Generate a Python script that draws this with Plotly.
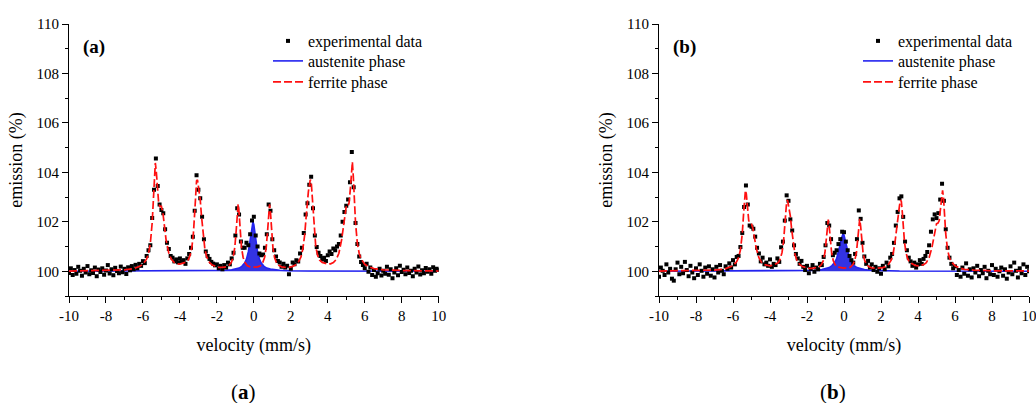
import numpy as np
import plotly.graph_objects as go

# ---------------- data ----------------
velocity = np.round(np.linspace(-10.0, 10.0, 201), 1)

emission_a = [
    99.93, 100.12, 99.85, 100.05, 99.90, 100.18, 100.02, 99.82, 100.10, 99.95,
    100.21, 99.88, 100.04, 99.93, 100.15, 99.80, 100.07, 99.97, 100.12, 99.86,
    100.03, 100.25, 99.91, 100.08, 99.84, 100.14, 100.01, 99.92, 100.19, 99.96,
    100.10, 99.89, 100.16, 100.04, 100.21, 100.08, 100.26, 100.12, 100.30, 100.22,
    100.41, 100.33, 100.62, 100.85, 101.05, 102.15, 103.30, 104.56, 103.45, 102.70,
    102.48, 102.35, 101.70, 101.15, 100.90, 100.62, 100.55, 100.40, 100.48, 100.36,
    100.52, 100.38, 100.45, 100.30, 100.52, 100.70, 100.95, 101.40, 102.45, 103.88,
    103.30, 102.95, 102.20, 101.30, 100.80, 100.62, 100.50, 100.38, 100.31, 100.24,
    100.28, 100.12, 100.22, 100.08, 100.25, 100.15, 100.35, 100.28, 100.52, 100.75,
    101.45, 102.55, 102.30, 101.20, 100.95, 100.95, 101.15, 101.05, 101.50, 102.05,
    102.20, 101.45, 101.00, 100.72, 100.65, 100.68, 100.95, 101.50, 102.70, 102.45,
    101.30, 100.85, 100.60, 100.42, 100.35, 100.18, 100.30, 100.15, 100.22, 99.88,
    100.10, 100.35, 100.28, 100.45, 100.40, 100.72, 100.95, 101.55, 102.30, 102.75,
    103.50, 103.82, 102.55, 101.45, 100.98, 100.75, 100.62, 100.48, 100.55, 100.42,
    100.65, 100.80, 100.70, 100.92, 100.85, 101.00, 101.10, 101.45, 102.00, 102.40,
    102.65, 102.90, 103.60, 104.82, 103.40, 101.95, 101.10, 100.60, 100.38, 100.25,
    100.12, 100.30, 99.98, 100.15, 99.85, 100.05, 99.78, 99.92, 100.10, 99.83,
    100.02, 99.90, 100.18, 99.86, 100.08, 99.72, 99.95, 100.12, 99.84, 100.22,
    99.97, 100.06, 99.88, 100.15, 99.93, 100.02, 99.80, 100.10, 99.95, 100.19,
    99.87, 100.04, 99.92, 100.13, 99.98, 100.08, 99.90, 100.16, 100.02, 100.10, 100.05,
]

emission_b = [
    99.78, 100.15, 100.02, 99.85, 100.28, 99.95, 100.10, 99.70, 99.62, 100.08,
    100.35, 99.88, 100.18, 99.92, 100.38, 100.05, 99.80, 100.22, 99.95, 99.72,
    100.12, 99.85, 100.28, 100.02, 99.78, 100.15, 99.90, 100.20, 99.82, 100.08,
    99.75, 100.18, 99.95, 100.25, 100.02, 99.88, 100.20, 100.10, 100.32, 100.15,
    100.45, 100.28, 100.58, 100.62, 100.98, 101.55, 102.60, 103.47, 102.70, 101.85,
    101.80, 101.72, 101.40, 100.95, 100.72, 100.40, 100.55, 100.28, 100.35, 100.22,
    100.48, 100.18, 100.30, 100.25, 100.52, 100.38, 100.97, 101.20, 102.05, 103.07,
    102.85, 102.10, 101.65, 101.05, 100.70, 100.52, 100.30, 100.42, 100.18, 100.05,
    100.22, 99.92, 100.10, 100.25, 99.98, 100.15, 100.08, 100.30, 100.25, 100.58,
    101.05, 101.95, 101.85, 101.30, 100.65, 100.75, 100.85, 101.10, 101.30, 101.60,
    101.58, 101.20, 100.85, 100.62, 100.45, 100.35, 100.70, 101.30, 102.46, 102.12,
    101.15, 100.60, 100.30, 100.42, 100.15, 100.28, 100.05, 100.18, 99.98, 100.12,
    99.90, 100.22, 100.08, 100.35, 100.20, 100.55, 100.70, 101.15, 101.85, 102.40,
    102.95, 103.03, 102.20, 101.20, 100.85, 100.55, 100.40, 100.22, 100.35, 100.15,
    100.28, 100.45, 100.30, 100.50, 100.62, 100.78, 101.05, 101.60, 102.10, 102.30,
    102.15, 102.35, 102.90, 103.54, 102.85, 101.70, 100.95, 100.55, 100.30, 100.12,
    100.20, 99.85, 100.05, 99.78, 100.15, 99.90, 100.32, 99.82, 100.08, 99.75,
    100.12, 99.95, 100.22, 99.80, 100.05, 99.92, 100.18, 99.72, 100.02, 99.88,
    100.25, 99.85, 100.10, 99.78, 100.00, 100.15, 99.82, 100.08, 99.70, 99.95,
    100.20, 99.88, 100.35, 100.02, 99.75, 100.12, 99.92, 100.28, 99.85, 100.18, 100.00,
]

fit_velocity = [
    -10, -9, -8, -7.5, -7, -6.5, -6.2, -6.0, -5.8, -5.7, -5.6, -5.5, -5.43, -5.38,
    -5.33, -5.28, -5.22, -5.15, -5.08, -5.0, -4.92, -4.84, -4.75, -4.6, -4.45, -4.3,
    -4.15, -4.0, -3.85, -3.7, -3.55, -3.45, -3.35, -3.27, -3.2, -3.15, -3.1, -3.05,
    -3.0, -2.95, -2.9, -2.83, -2.75, -2.65, -2.55, -2.4, -2.25, -2.1, -1.9, -1.7,
    -1.5, -1.35, -1.22, -1.12, -1.03, -0.96, -0.9, -0.85, -0.8, -0.74, -0.67, -0.58,
    -0.48, -0.35, -0.2, 0,
    0.2, 0.35, 0.48, 0.58, 0.67, 0.74, 0.8, 0.85, 0.9, 0.96, 1.03, 1.12, 1.22, 1.35,
    1.5, 1.7, 1.9, 2.1, 2.25, 2.4, 2.55, 2.65, 2.75, 2.83, 2.9, 2.95, 3.0, 3.05, 3.1,
    3.15, 3.2, 3.27, 3.35, 3.45, 3.55, 3.7, 3.85, 4.0, 4.15, 4.3, 4.45, 4.6, 4.75,
    4.84, 4.92, 5.0, 5.08, 5.15, 5.22, 5.28, 5.33, 5.38, 5.43, 5.5, 5.6, 5.7, 5.8,
    6.0, 6.2, 6.5, 7, 7.5, 8, 9, 10,
]

ferrite_a = [
    100.01, 100.02, 100.03, 100.04, 100.06, 100.11, 100.19, 100.28, 100.50, 100.72,
    101.12, 101.96, 102.99, 103.84, 104.38, 104.06, 103.33, 102.76, 102.61, 102.63,
    102.36, 101.82, 101.28, 100.73, 100.47, 100.35, 100.30, 100.29, 100.31, 100.36,
    100.46, 100.64, 100.99, 101.53, 102.37, 103.12, 103.66, 103.70, 103.45, 103.22,
    102.89, 102.21, 101.47, 100.90, 100.58, 100.36, 100.25, 100.20, 100.16, 100.16,
    100.18, 100.24, 100.35, 100.56, 100.97, 101.60, 102.37, 102.71, 102.37, 101.60,
    100.97, 100.56, 100.35, 100.22, 100.18, 100.17,
    100.18, 100.22, 100.35, 100.56, 100.97, 101.60, 102.37, 102.71, 102.37, 101.60,
    100.97, 100.56, 100.35, 100.24, 100.18, 100.16, 100.16, 100.20, 100.25, 100.36,
    100.58, 100.90, 101.47, 102.21, 102.89, 103.22, 103.45, 103.70, 103.66, 103.12,
    102.37, 101.53, 100.99, 100.64, 100.46, 100.36, 100.31, 100.29, 100.30, 100.35,
    100.47, 100.73, 101.28, 101.82, 102.36, 102.63, 102.61, 102.76, 103.33, 104.06,
    104.42, 103.84, 102.99, 101.96, 101.12, 100.72, 100.50, 100.28, 100.19, 100.11,
    100.06, 100.04, 100.03, 100.02, 100.01,
]

ferrite_b = [
    100.01, 100.02, 100.02, 100.03, 100.05, 100.08, 100.15, 100.22, 100.39, 100.55,
    100.86, 101.51, 102.30, 102.96, 103.27, 103.13, 102.56, 102.05, 101.95, 101.92,
    101.72, 101.33, 100.95, 100.55, 100.35, 100.27, 100.23, 100.22, 100.24, 100.28,
    100.35, 100.49, 100.76, 101.18, 101.82, 102.40, 102.82, 102.88, 102.66, 102.48,
    102.23, 101.70, 101.13, 100.69, 100.45, 100.28, 100.19, 100.15, 100.12, 100.12,
    100.14, 100.18, 100.27, 100.43, 100.75, 101.23, 101.82, 102.09, 101.82, 101.23,
    100.75, 100.43, 100.27, 100.17, 100.14, 100.13,
    100.14, 100.17, 100.27, 100.43, 100.75, 101.23, 101.82, 102.12, 101.82, 101.23,
    100.75, 100.43, 100.27, 100.18, 100.14, 100.12, 100.12, 100.15, 100.19, 100.28,
    100.45, 100.69, 101.13, 101.70, 102.23, 102.48, 102.66, 102.88, 102.82, 102.40,
    101.82, 101.18, 100.76, 100.49, 100.35, 100.28, 100.24, 100.22, 100.23, 100.27,
    100.35, 100.55, 100.95, 101.33, 101.72, 101.92, 101.95, 102.05, 102.56, 103.13,
    103.27, 102.96, 102.30, 101.51, 100.86, 100.55, 100.39, 100.22, 100.15, 100.08,
    100.05, 100.03, 100.02, 100.02, 100.01,
]

aust_velocity = [
    -10, -3, -2, -1.5, -1.2, -1.0, -0.8, -0.65, -0.5, -0.4, -0.3, -0.22, -0.15, -0.1,
    -0.05, 0, 0.05, 0.12, 0.2, 0.3, 0.4, 0.55, 0.7, 0.9, 1.1, 1.4, 2, 3, 10,
]
austenite_a = [
    100.00, 100.01, 100.02, 100.04, 100.06, 100.09, 100.13, 100.20, 100.33, 100.49,
    100.78, 101.16, 101.60, 101.88, 102.00, 101.88, 101.60, 101.16, 100.78, 100.49,
    100.33, 100.20, 100.13, 100.09, 100.06, 100.04, 100.02, 100.01, 100.00,
]
austenite_b = [
    100.00, 100.01, 100.02, 100.04, 100.07, 100.10, 100.15, 100.23, 100.36, 100.51,
    100.76, 101.04, 101.31, 101.46, 101.52, 101.46, 101.31, 101.04, 100.76, 100.51,
    100.36, 100.23, 100.15, 100.10, 100.07, 100.04, 100.02, 100.01, 100.00,
]

baseline_velocity = [-10, 10]
baseline_level = [100, 100]

x_tick_vals = [-10, -8, -6, -4, -2, 0, 2, 4, 6, 8, 10]
x_tick_text = ["-10", "-8", "-6", "-4", "-2", "0", "2", "4", "6", "8", "10"]
x_minor_vals = [-9, -7, -5, -3, -1, 1, 3, 5, 7, 9]
y_tick_vals = [100, 102, 104, 106, 108, 110]
y_tick_text = ["100", "102", "104", "106", "108", "110"]
y_minor_vals = [99, 101, 103, 105, 107, 109]

series_names = ["experimental data", "austenite phase", "ferrite phase"]
panel_tags = ["(a)", "(b)"]
x_title = "velocity (mm/s)"
y_title = "emission (%)"

# ---------------- styling ----------------
FONT = "Liberation Serif, DejaVu Serif, serif"
W, H = 1036, 403
dom_x = [[69 / W, 438.7 / W], [659 / W, 1029 / W]]
dom_y = [1 - 296 / H, 1 - 24 / H]
BLUE = "#2323f0"
FILL = "rgba(35,35,225,0.93)"
RED = "#ff1010"

# one single-entry legend per row so the row spacing matches the original
legend_ids = [["legend", "legend3", "legend4"], ["legend2", "legend5", "legend6"]]
legend_left_px = [268, 858]
legend_top_px = [24, 44, 65]

fig = go.Figure()

panels = [
    (emission_a, ferrite_a, austenite_a, "x", "y"),
    (emission_b, ferrite_b, austenite_b, "x2", "y2"),
]

for p, (emis, ferr, aust, xa, ya) in enumerate(panels):
    lg = legend_ids[p]
    fig.add_trace(go.Scatter(x=baseline_velocity, y=baseline_level, mode="lines",
                             line=dict(width=0, color=BLUE), showlegend=False,
                             hoverinfo="skip", xaxis=xa, yaxis=ya))
    fig.add_trace(go.Scatter(x=aust_velocity, y=aust, mode="lines", fill="tonexty",
                             fillcolor=FILL, line=dict(width=0, color=BLUE),
                             showlegend=False, hoverinfo="skip", xaxis=xa, yaxis=ya))
    fig.add_trace(go.Scatter(x=aust_velocity, y=aust, mode="lines", name=series_names[1],
                             line=dict(width=1.6, color=BLUE),
                             legend=lg[1], xaxis=xa, yaxis=ya))
    fig.add_trace(go.Scatter(x=velocity, y=emis, mode="markers", name=series_names[0],
                             marker=dict(symbol="square", size=4, color="black",
                                         line=dict(width=0)),
                             legend=lg[0], xaxis=xa, yaxis=ya))
    fig.add_trace(go.Scatter(x=fit_velocity, y=ferr, mode="lines", name=series_names[2],
                             line=dict(width=1.7, color=RED, dash="8px,3px"),
                             legend=lg[2], xaxis=xa, yaxis=ya))

tickfont = dict(family=FONT, size=15, color="black")
titlefont = dict(family=FONT, size=18, color="black")

common_x = dict(range=[-10, 10], showgrid=False, zeroline=False, showline=True,
                linecolor="black", linewidth=1.2, tickcolor="black", tickwidth=1.2,
                automargin=False, fixedrange=True)
common_y = dict(range=[99, 110], showgrid=False, zeroline=False, showline=True,
                linecolor="black", linewidth=1.2, tickcolor="black", tickwidth=1.2,
                automargin=False, fixedrange=True)

layout_axes = {}
for i, (xn, yn, xt, yt) in enumerate([("xaxis", "yaxis", "xaxis3", "yaxis3"),
                                      ("xaxis2", "yaxis2", "xaxis4", "yaxis4")]):
    xid = "x" if i == 0 else "x2"
    yid = "y" if i == 0 else "y2"
    layout_axes[xn] = dict(common_x, domain=dom_x[i], anchor=yid,
                           tickmode="array", tickvals=x_tick_vals, ticktext=x_tick_text,
                           ticks="outside", ticklen=6, ticklabeloverflow="allow",
                           minor=dict(tickmode="array", tickvals=x_minor_vals,
                                      ticks="outside", ticklen=3, tickcolor="black",
                                      tickwidth=1.2, showgrid=False),
                           tickfont=tickfont,
                           title=dict(text=x_title, font=titlefont, standoff=15))
    layout_axes[yn] = dict(common_y, domain=dom_y, anchor=xid,
                           tickmode="array", tickvals=y_tick_vals, ticktext=y_tick_text,
                           ticks="outside", ticklen=6, ticklabeloverflow="allow",
                           minor=dict(tickmode="array", tickvals=y_minor_vals,
                                      ticks="outside", ticklen=3, tickcolor="black",
                                      tickwidth=1.2, showgrid=False),
                           tickfont=tickfont,
                           title=dict(text=y_title, font=titlefont, standoff=9))
    layout_axes[xt] = dict(common_x, overlaying=xid, anchor=yid, side="top",
                           tickmode="array", tickvals=x_tick_vals,
                           ticks="inside", ticklen=6, showticklabels=False,
                           minor=dict(tickmode="array", tickvals=x_minor_vals,
                                      ticks="inside", ticklen=3, tickcolor="black",
                                      tickwidth=1.2, showgrid=False))
    layout_axes[yt] = dict(common_y, overlaying=yid, anchor=xid, side="right",
                           tickmode="array", tickvals=y_tick_vals,
                           ticks="inside", ticklen=6, showticklabels=False,
                           minor=dict(tickmode="array", tickvals=y_minor_vals,
                                      ticks="inside", ticklen=3, tickcolor="black",
                                      tickwidth=1.2, showgrid=False))

legend_font = dict(family=FONT, size=16, color="black")
legend_layout = {}
for p in range(2):
    for r in range(3):
        legend_layout[legend_ids[p][r]] = dict(
            x=legend_left_px[p] / W, y=1 - legend_top_px[r] / H,
            xanchor="left", yanchor="top", bgcolor="rgba(0,0,0,0)",
            font=legend_font, itemwidth=30, traceorder="normal", tracegroupgap=0)

annotations = [
    dict(text="<b>" + panel_tags[0] + "</b>", x=81 / W, y=1 - 47 / H, xref="paper",
         yref="paper", xanchor="left", yanchor="middle", showarrow=False,
         font=dict(family=FONT, size=19, color="black")),
    dict(text="<b>" + panel_tags[1] + "</b>", x=671 / W, y=1 - 47 / H, xref="paper",
         yref="paper", xanchor="left", yanchor="middle", showarrow=False,
         font=dict(family=FONT, size=19, color="black")),
    dict(text="(<b>a</b>)", x=243 / W, y=1 - 392 / H, xref="paper", yref="paper",
         xanchor="center", yanchor="middle", showarrow=False,
         font=dict(family=FONT, size=21, color="black")),
    dict(text="(<b>b</b>)", x=832.5 / W, y=1 - 392 / H, xref="paper", yref="paper",
         xanchor="center", yanchor="middle", showarrow=False,
         font=dict(family=FONT, size=21, color="black")),
]

fig.update_layout(
    width=W, height=H,
    margin=dict(l=0, r=0, t=0, b=0),
    paper_bgcolor="white", plot_bgcolor="white",
    font=dict(family=FONT, color="black"),
    showlegend=True,
    annotations=annotations,
    **legend_layout,
    **layout_axes,
)

fig.write_html("out.html")
